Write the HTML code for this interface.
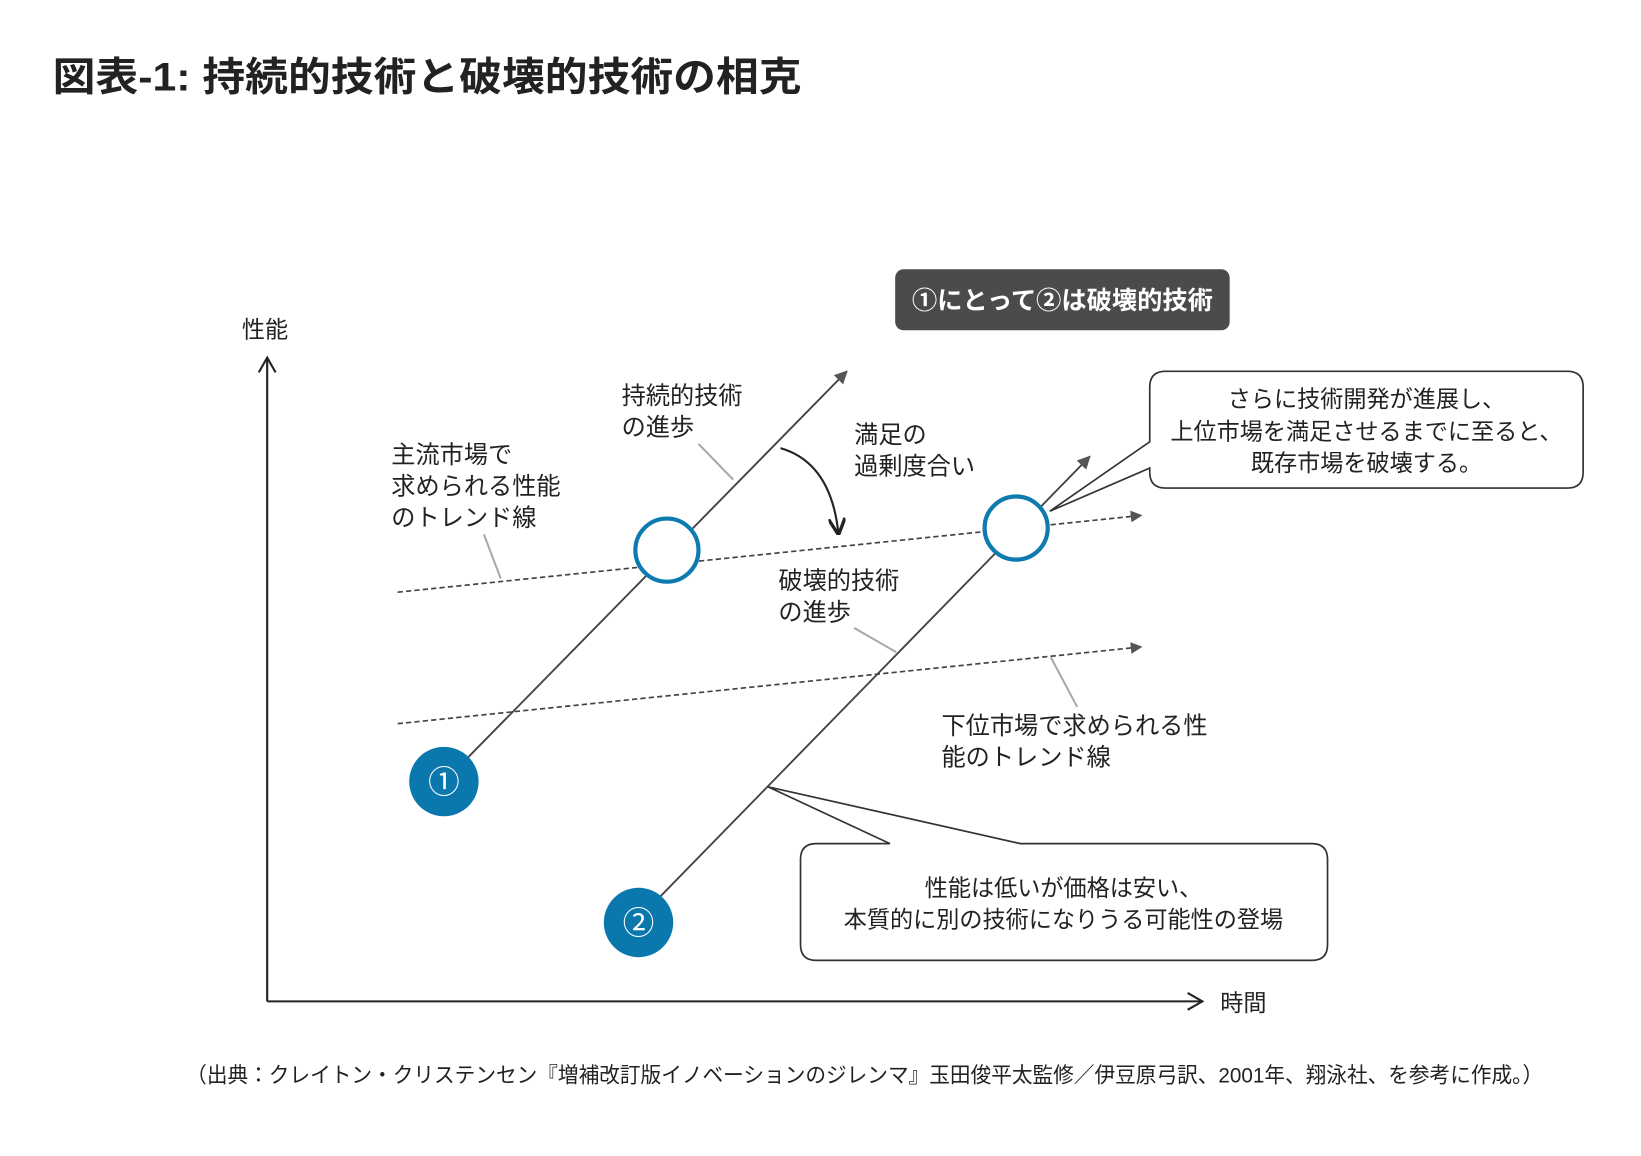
<!DOCTYPE html>
<html><head><meta charset="utf-8"><style>
html,body{margin:0;padding:0;background:#fff}
svg{display:block}
text{font-family:"Liberation Sans","Noto Sans CJK JP",sans-serif;fill:#222}
</style></head><body>
<svg width="1641" height="1156" viewBox="0 0 1560 1099" preserveAspectRatio="none" xmlns="http://www.w3.org/2000/svg">
<defs>
<marker id="a" viewBox="0 0 10 10" refX="9" refY="5" markerWidth="7" markerHeight="7" orient="auto"><path d="M0,0L10,5L0,10z" fill="#555"/></marker>
<marker id="k" viewBox="0 0 10 10" refX="9" refY="5" markerWidth="8" markerHeight="8" orient="auto"><path d="M0,0L10,5L0,10" fill="none" stroke="#222" stroke-width="2"/></marker>
</defs>
<text x="50" y="86" font-size="38" font-weight="bold" fill="#111" textLength="712" lengthAdjust="spacingAndGlyphs">図表-1: 持続的技術と破壊的技術の相克</text>
<rect x="851" y="256" width="318" height="58" rx="8" fill="#4a4b4d"/>
<text x="1010" y="294" font-size="24" font-weight="bold" text-anchor="middle" style="fill:#fff">①にとって②は破壊的技術</text>
<text x="230" y="321" font-size="22">性能</text>
<text x="1160" y="961" font-size="22">時間</text>
<line x1="254" y1="952" x2="254" y2="340" stroke="#222" stroke-width="2"/>
<path d="M246,354L254,340L262,354" fill="none" stroke="#222" stroke-width="2"/>
<line x1="254" y1="952" x2="1143" y2="952" stroke="#222" stroke-width="2"/>
<path d="M1129,944L1143,952L1129,960" fill="none" stroke="#222" stroke-width="2"/>
<line x1="378" y1="563" x2="1085" y2="490" stroke="#444" stroke-width="1.6" stroke-dasharray="5,3" marker-end="url(#a)"/>
<line x1="378" y1="688" x2="1085" y2="615" stroke="#444" stroke-width="1.6" stroke-dasharray="5,3" marker-end="url(#a)"/>
<line x1="445" y1="720" x2="805" y2="353" stroke="#444" stroke-width="1.8" marker-end="url(#a)"/>
<line x1="628" y1="852" x2="1036" y2="434" stroke="#444" stroke-width="1.8" marker-end="url(#a)"/>
<circle cx="634" cy="523" r="30" fill="#fff" stroke="#0e7bb0" stroke-width="4"/>
<circle cx="966" cy="502" r="30" fill="#fff" stroke="#0e7bb0" stroke-width="4"/>
<circle cx="422" cy="743" r="33" fill="#0a78ad"/>
<text x="422" y="754" font-size="30" text-anchor="middle" style="fill:#fff">①</text>
<circle cx="607" cy="877" r="33" fill="#0a78ad"/>
<text x="607" y="888" font-size="30" text-anchor="middle" style="fill:#fff">②</text>
<g font-size="23">
<text x="372" y="440">主流市場で</text><text x="372" y="470">求められる性能</text><text x="372" y="500">のトレンド線</text>
<text x="591" y="384">持続的技術</text><text x="591" y="414">の進歩</text>
<text x="812" y="421">満足の</text><text x="812" y="451">過剰度合い</text>
<text x="740" y="560">破壊的技術</text><text x="740" y="590">の進歩</text>
<text x="895" y="698">下位市場で求められる性</text><text x="895" y="728">能のトレンド線</text>
</g>
<g stroke="#aaa" stroke-width="2">
<line x1="460" y1="508" x2="476" y2="550"/>
<line x1="664" y1="422" x2="697" y2="456"/>
<line x1="812" y1="597" x2="852" y2="620"/>
<line x1="999" y1="625" x2="1024" y2="672"/>
</g>
<path d="M742,426 Q790,440 797,507" fill="none" stroke="#222" stroke-width="2" marker-end="url(#k)"/>
<path d="M1108,353H1490Q1505,353 1505,368V449Q1505,464 1490,464H1108Q1093,464 1093,449V445L998,486L1093,420V368Q1093,353 1108,353z" fill="#fff" stroke="#333" stroke-width="1.6"/>
<g font-size="22" text-anchor="middle">
<text x="1299" y="387">さらに技術開発が進展し、</text>
<text x="1299" y="418">上位市場を満足させるまでに至ると、</text>
<text x="1299" y="448">既存市場を破壊する。</text>
</g>
<path d="M776,802H846L730,748L970,802H1247Q1262,802 1262,817V898Q1262,913 1247,913H776Q761,913 761,898V817Q761,802 776,802z" fill="#fff" stroke="#333" stroke-width="1.6"/>
<g font-size="22" text-anchor="middle">
<text x="1011" y="852">性能は低いが価格は安い、</text>
<text x="1011" y="882">本質的に別の技術になりうる可能性の登場</text>
</g>
<text x="177" y="1029" font-size="20.5" textLength="1290" lengthAdjust="spacingAndGlyphs">（出典：クレイトン・クリステンセン『増補改訂版イノベーションのジレンマ』玉田俊平太監修／伊豆原弓訳、2001年、翔泳社、を参考に作成。）</text>
</svg>
</body></html>
